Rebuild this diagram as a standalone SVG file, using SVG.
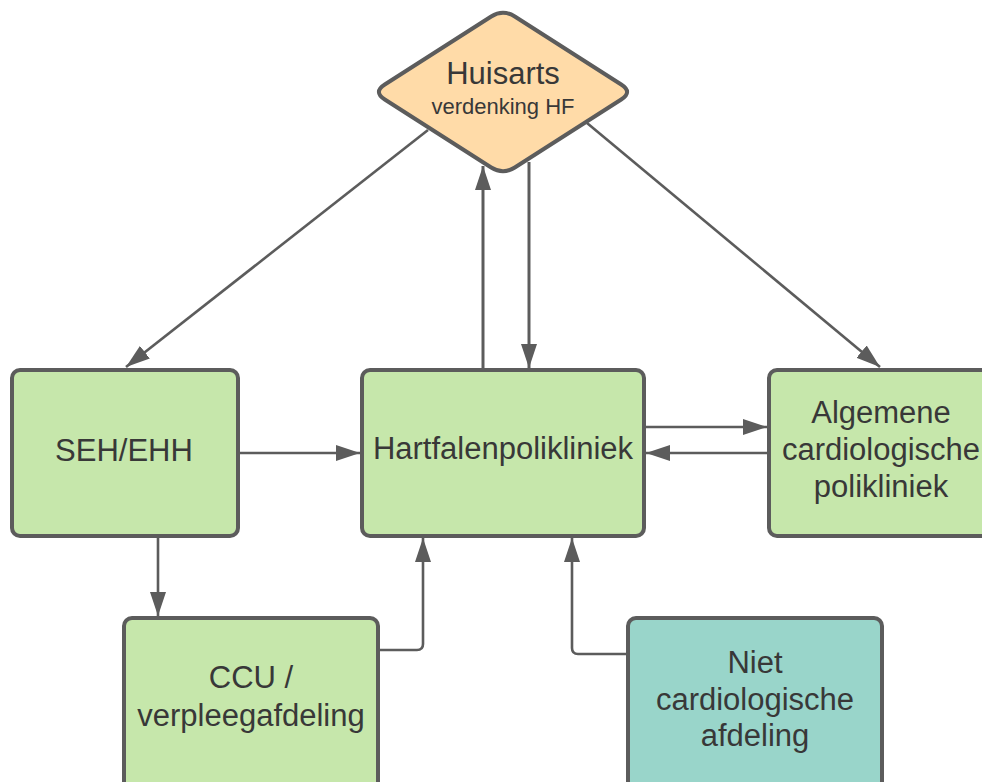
<svg xmlns="http://www.w3.org/2000/svg" width="982" height="782" viewBox="0 0 982 782">
<style>
.box{stroke:#5c5c5c;stroke-width:4}
.green{fill:#c6e7ab}
.teal{fill:#99d5ca}
.dia{fill:#ffdba8;stroke:#5c5c5c;stroke-width:4;stroke-linejoin:round}
.t{font-family:"Liberation Sans",Arial,sans-serif;fill:#383838;text-anchor:middle}
.big{font-size:31px}
.small{font-size:22px}
.c{fill:none;stroke:#5c5c5c;stroke-width:2.6}
</style>
<defs>
<marker id="arr" markerUnits="userSpaceOnUse" markerWidth="24" markerHeight="16" viewBox="0 0 24 16" refX="24" refY="8" orient="auto">
<path d="M0,0 L24,8 L0,16 Z" fill="#5c5c5c"/>
</marker>
</defs>
<rect width="982" height="782" fill="#ffffff"/>
<g id="connectors">
<path class="c" d="M428,130 L126,367" marker-end="url(#arr)"/>
<path class="c" d="M587,123 L880,367" marker-end="url(#arr)"/>
<path class="c" style="stroke-width:3" d="M483,370 L483,166" marker-end="url(#arr)"/>
<path class="c" style="stroke-width:3" d="M529,162 L529,368" marker-end="url(#arr)"/>
<path class="c" d="M238,453 L360,453" marker-end="url(#arr)"/>
<path class="c" d="M644,427 L767,427" marker-end="url(#arr)"/>
<path class="c" d="M769,453 L646,453" marker-end="url(#arr)"/>
<path class="c" d="M158,536 L158,616" marker-end="url(#arr)"/>
<path class="c" d="M378,650 L417,650 Q423,650 423,644 L423,538" marker-end="url(#arr)"/>
<path class="c" d="M628,654 L578,654 Q572,654 572,648 L572,538" marker-end="url(#arr)"/>
</g>
<g id="huisarts">
<path class="dia" d="M491.2,16.5 Q503,9 514.8,16.5 L621.2,84.5 Q633,92 621.2,99.5 L514.8,167.5 Q503,175 491.2,167.5 L384.8,99.5 Q373,92 384.8,84.5 Z"/>
<text class="t big" x="503" y="84">Huisarts</text>
<text class="t small" x="503" y="114">verdenking HF</text>
</g>
<g id="seh">
<rect class="box green" x="12" y="370" width="226" height="166" rx="8"/>
<text class="t big" x="124" y="461">SEH/EHH</text>
</g>
<g id="hartfalen">
<rect class="box green" x="362" y="370" width="282" height="166" rx="8"/>
<text class="t big" x="503" y="459">Hartfalenpolikliniek</text>
</g>
<g id="algemene">
<rect class="box green" x="769" y="370" width="226" height="166" rx="8"/>
<text class="t big" x="881" y="423">Algemene</text>
<text class="t big" x="881" y="460">cardiologische</text>
<text class="t big" x="881" y="497">polikliniek</text>
</g>
<g id="ccu">
<rect class="box green" x="124" y="618" width="254" height="180" rx="8"/>
<text class="t big" x="251" y="688">CCU /</text>
<text class="t big" x="251" y="726">verpleegafdeling</text>
</g>
<g id="niet">
<rect class="box teal" x="628" y="618" width="254" height="180" rx="8"/>
<text class="t big" x="755" y="673">Niet</text>
<text class="t big" x="755" y="710">cardiologische</text>
<text class="t big" x="755" y="746">afdeling</text>
</g>
</svg>
